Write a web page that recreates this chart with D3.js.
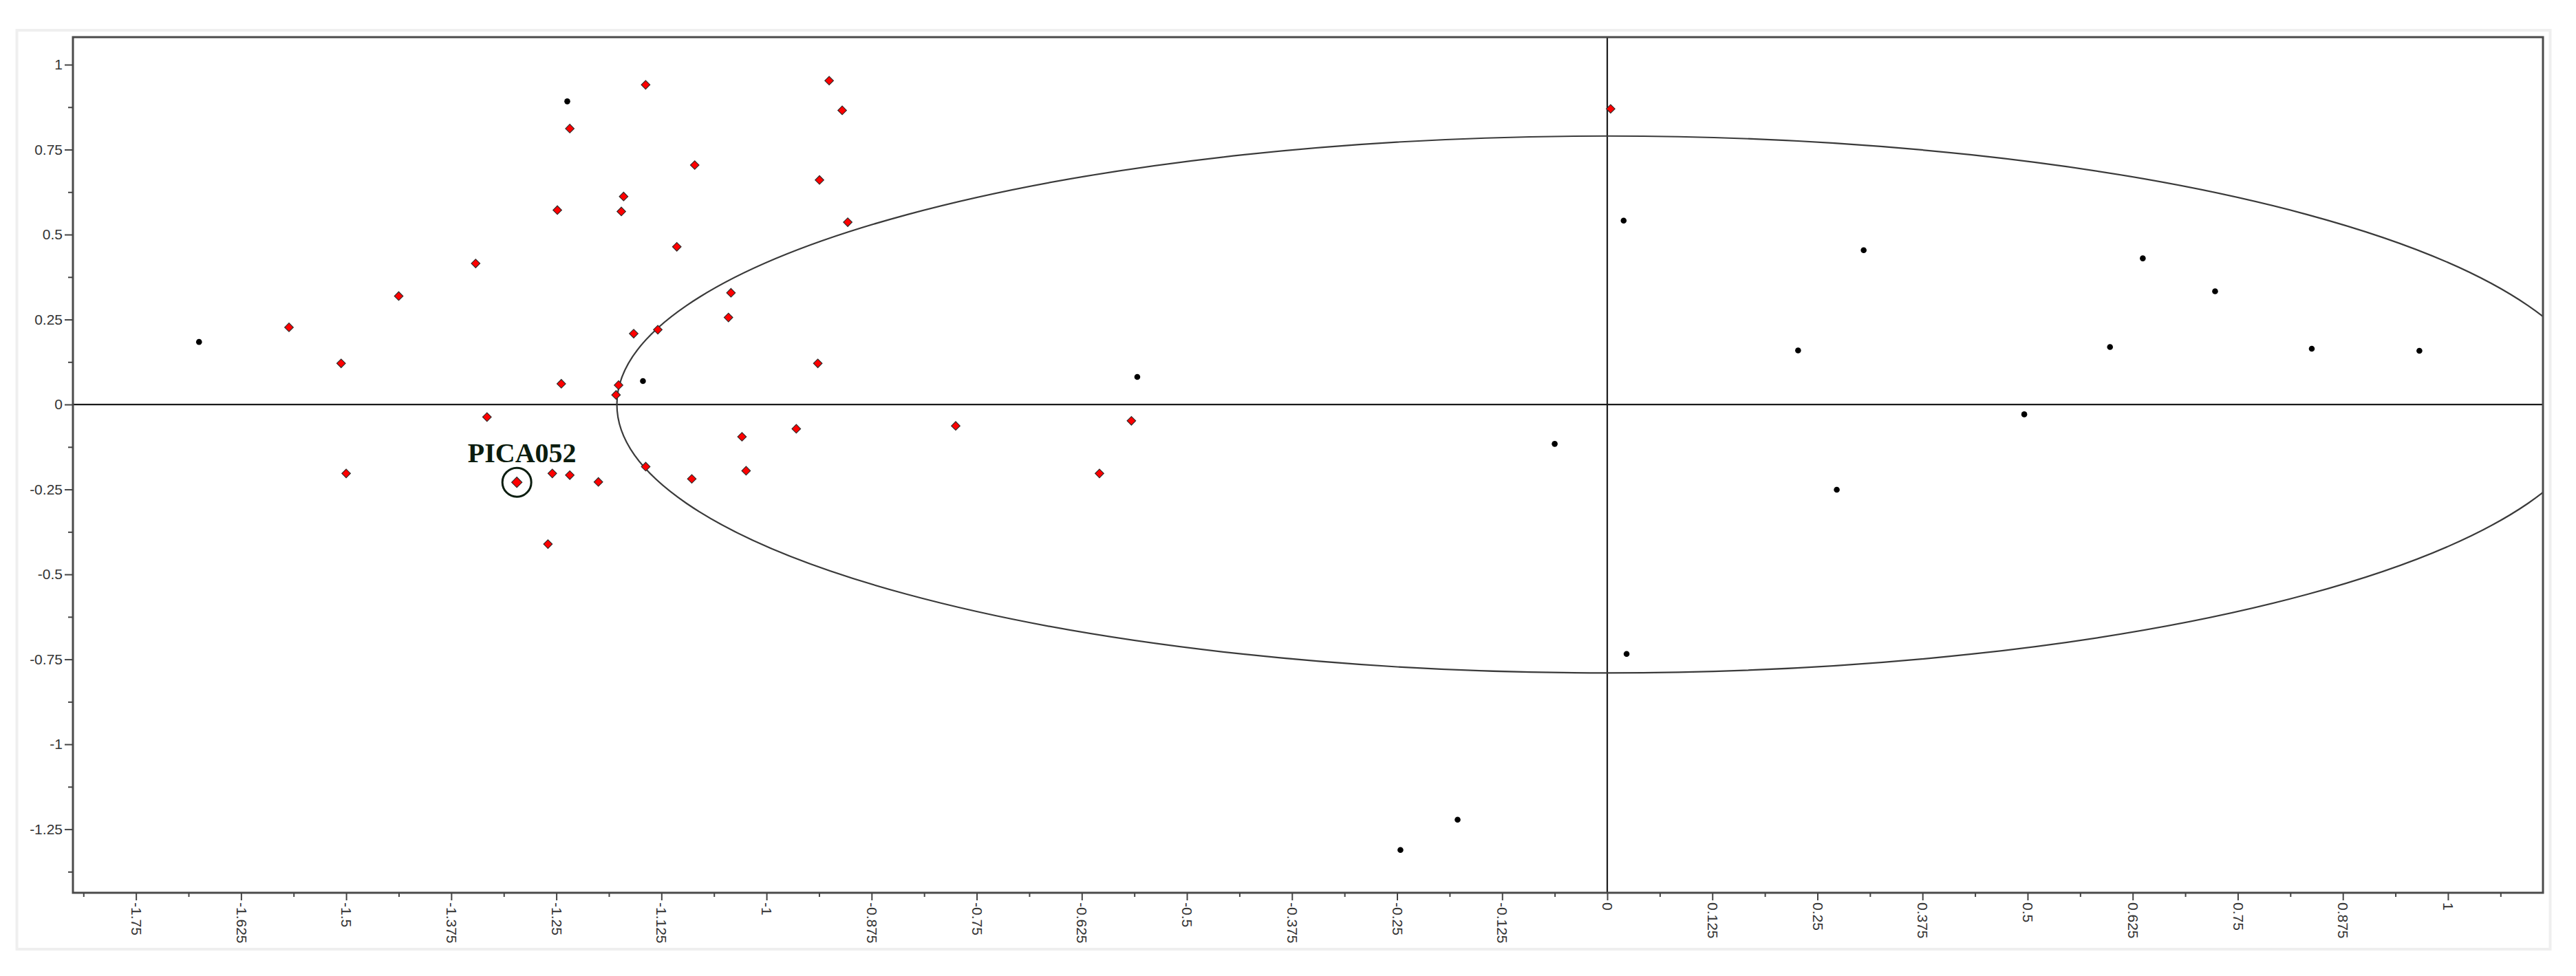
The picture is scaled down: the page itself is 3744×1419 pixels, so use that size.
<!DOCTYPE html>
<html>
<head>
<meta charset="utf-8">
<script src="https://cdn.jsdelivr.net/npm/d3@7"></script>
<style>
  html, body { margin: 0; padding: 0; background: #ffffff; }
  svg { display: block; }
</style>
</head>
<body>
<svg id="chart" width="3744" height="1419"></svg>
<script>
// ---------------- DATA ----------------
// Red diamonds (class 1) : [t1, t2]
const redPoints = [
  [-1.568, 0.227], [-1.506, 0.121], [-1.500, -0.203], [-1.4375, 0.319],
  [-1.346, 0.415], [-1.3325, -0.037], [-1.297, -0.229], [-1.260, -0.411],
  [-1.2548, -0.203], [-1.2488, 0.572], [-1.2441, 0.061], [-1.234, -0.208],
  [-1.234, 0.812], [-1.200, -0.228], [-1.179, 0.028], [-1.176, 0.057],
  [-1.1727, 0.568], [-1.170, 0.612], [-1.158, 0.2085], [-1.1438, 0.9406],
  [-1.1437, -0.183], [-1.1293, 0.220], [-1.1067, 0.464], [-1.0889, -0.219],
  [-1.0854, 0.7045], [-1.0453, 0.256], [-1.0423, 0.3286], [-1.0292, -0.095],
  [-1.0243, -0.195], [-0.9646, -0.0715], [-0.937, 0.6606], [-0.939, 0.121],
  [-0.9255, 0.953], [-0.910, 0.8656], [-0.9034, 0.5364], [-0.775, -0.063],
  [-0.604, -0.203], [-0.566, -0.048], [0.004, 0.870]
];
// Black dots (class 2) : [t1, t2]
const blackPoints = [
  [-1.675, 0.184], [-1.237, 0.892], [-1.147, 0.069], [-0.559, 0.081],
  [-0.0625, -0.116], [0.0195, 0.541], [0.227, 0.159], [0.305, 0.454],
  [0.273, -0.251], [0.023, -0.734], [0.496, -0.029], [0.598, 0.169],
  [0.637, 0.430], [0.723, 0.333], [0.838, 0.164], [0.966, 0.158],
  [-0.246, -1.311], [-0.178, -1.222]
];
// Highlighted sample
const highlightName = "PICA052";
const highlightPoint = [-1.297, -0.229];

// Hotelling-type ellipse radii (data units), centred at origin
const ellipseRx = 1.178;
const ellipseRy = 0.79;

// Axis ticks
const xTickValues = [-1.75, -1.625, -1.5, -1.375, -1.25, -1.125, -1, -0.875, -0.75, -0.625,
  -0.5, -0.375, -0.25, -0.125, 0, 0.125, 0.25, 0.375, 0.5, 0.625, 0.75, 0.875, 1];
const xTickLabels = ["-1.75", "-1.625", "-1.5", "-1.375", "-1.25", "-1.125", "-1", "-0.875", "-0.75", "-0.625",
  "-0.5", "-0.375", "-0.25", "-0.125", "0", "0.125", "0.25", "0.375", "0.5", "0.625", "0.75", "0.875", "1"];
const yTickValues = [1, 0.75, 0.5, 0.25, 0, -0.25, -0.5, -0.75, -1, -1.25];
const yTickLabels = ["1", "0.75", "0.5", "0.25", "0", "-0.25", "-0.5", "-0.75", "-1", "-1.25"];

const xDomain = [-1.825, 1.113];
const yDomain = [-1.437, 1.081];

// ---------------- LAYOUT ----------------
const plot = { left: 106, top: 54, right: 3696, bottom: 1298 };

const svg = d3.select("#chart");

const x = d3.scaleLinear().domain(xDomain).range([plot.left, plot.right]);
const y = d3.scaleLinear().domain(yDomain).range([plot.bottom, plot.top]);

// minor ticks halfway between majors
const xMinor = xTickValues.map(v => v - 0.0625).concat([1.0625]).filter(v => v > xDomain[0] && v < xDomain[1]);
const yMinor = yTickValues.map(v => v - 0.125).concat([1.125]).filter(v => v > yDomain[0] && v < yDomain[1]);

// outer light frame
svg.append("rect")
  .attr("x", 24.5).attr("y", 44).attr("width", 3682).attr("height", 1336)
  .attr("fill", "none").attr("stroke", "#efefef").attr("stroke-width", 4);

// clip
svg.append("defs").append("clipPath").attr("id", "plotclip")
  .append("rect")
  .attr("x", plot.left).attr("y", plot.top)
  .attr("width", plot.right - plot.left).attr("height", plot.bottom - plot.top);

const g = svg.append("g").attr("clip-path", "url(#plotclip)");

// zero lines
g.append("line")
  .attr("x1", plot.left).attr("x2", plot.right)
  .attr("y1", y(0)).attr("y2", y(0))
  .attr("stroke", "#1a1a1a").attr("stroke-width", 2.2);
g.append("line")
  .attr("x1", x(0)).attr("x2", x(0))
  .attr("y1", plot.top).attr("y2", plot.bottom)
  .attr("stroke", "#1a1a1a").attr("stroke-width", 2.2);

// ellipse
g.append("ellipse")
  .attr("cx", x(0)).attr("cy", y(0))
  .attr("rx", x(ellipseRx) - x(0))
  .attr("ry", y(0) - y(ellipseRy))
  .attr("fill", "none").attr("stroke", "#3a3a3a").attr("stroke-width", 2.2);

// black dots
g.selectAll("circle.blk").data(blackPoints).enter().append("circle")
  .attr("class", "blk")
  .attr("cx", d => x(d[0])).attr("cy", d => y(d[1]))
  .attr("r", 4.3).attr("fill", "#000");

// red diamonds
const diamond = d3.symbol().type(d3.symbolSquare).size(80);
const diamondBig = d3.symbol().type(d3.symbolSquare).size(115);
g.selectAll("path.red").data(redPoints).enter().append("path")
  .attr("class", "red")
  .attr("d", d => (d[0] === highlightPoint[0] && d[1] === highlightPoint[1]) ? diamondBig() : diamond())
  .attr("transform", d => `translate(${x(d[0])},${y(d[1])}) rotate(45)`)
  .attr("fill", "#ff0000").attr("stroke", "#2a2a2a").attr("stroke-width", 1.1);

// highlight circle + label
svg.append("circle")
  .attr("cx", x(highlightPoint[0])).attr("cy", y(highlightPoint[1]))
  .attr("r", 21).attr("fill", "none")
  .attr("stroke", "#0c1e10").attr("stroke-width", 3);
svg.append("text")
  .attr("x", x(highlightPoint[0]) + 7.5)
  .attr("y", y(highlightPoint[1]) - 29)
  .attr("text-anchor", "middle")
  .attr("font-family", "'Liberation Serif', 'Times New Roman', serif")
  .attr("font-weight", "bold")
  .attr("font-size", 40)
  .attr("fill", "#0b1c0e")
  .text(highlightName);

// plot frame
svg.append("rect")
  .attr("x", plot.left).attr("y", plot.top)
  .attr("width", plot.right - plot.left).attr("height", plot.bottom - plot.top)
  .attr("fill", "none").attr("stroke", "#4a4a4a").attr("stroke-width", 3);

// ---------------- AXES ----------------
const tickFont = "'Liberation Sans', Arial, sans-serif";

// Y axis major
const yAxis = d3.axisLeft(y).tickValues(yTickValues).tickSize(12).tickPadding(3)
  .tickFormat((d, i) => yTickLabels[i]);
const gy = svg.append("g").attr("transform", `translate(${plot.left},0)`).call(yAxis);
gy.select(".domain").remove();
gy.selectAll(".tick line").attr("stroke", "#444").attr("stroke-width", 2);
gy.selectAll(".tick text").attr("font-family", tickFont).attr("font-size", 21).attr("fill", "#333");

// Y axis minor
const gyMinor = svg.append("g").attr("transform", `translate(${plot.left},0)`)
  .call(d3.axisLeft(y).tickValues(yMinor).tickSize(7).tickFormat(""));
gyMinor.select(".domain").remove();
gyMinor.selectAll(".tick line").attr("stroke", "#444").attr("stroke-width", 2);

// X axis major
const xAxis = d3.axisBottom(x).tickValues(xTickValues).tickSize(11).tickPadding(3)
  .tickFormat((d, i) => xTickLabels[i]);
const gx = svg.append("g").attr("transform", `translate(0,${plot.bottom})`).call(xAxis);
gx.select(".domain").remove();
gx.selectAll(".tick line").attr("stroke", "#444").attr("stroke-width", 2);
gx.selectAll(".tick text")
  .attr("font-family", tickFont).attr("font-size", 21).attr("fill", "#333")
  .attr("text-anchor", "start")
  .attr("transform", "translate(0,14) rotate(90)")
  .attr("x", 0).attr("y", 0).attr("dy", "0.35em");

// X axis minor
const gxMinor = svg.append("g").attr("transform", `translate(0,${plot.bottom})`)
  .call(d3.axisBottom(x).tickValues(xMinor).tickSize(6).tickFormat(""));
gxMinor.select(".domain").remove();
gxMinor.selectAll(".tick line").attr("stroke", "#444").attr("stroke-width", 2);
</script>
</body>
</html>
